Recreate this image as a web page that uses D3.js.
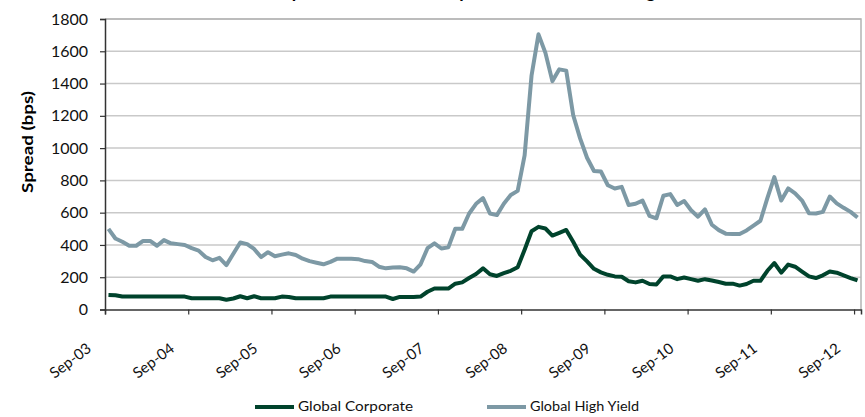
<!DOCTYPE html>
<html>
<head>
<meta charset="utf-8">
<script src="https://cdn.jsdelivr.net/npm/d3@7"></script>
<style>
  html, body { margin: 0; padding: 0; background: #fff; }
  svg { display: block; font-family: Lato, "Open Sans", sans-serif; }
</style>
</head>
<body>
<svg id="chart" width="865" height="417"></svg>
<script>
// Monthly spreads (bps), Sep-03 through Sep-12
const highYield = [
  500, 440, 420, 395, 395, 425, 425, 395, 430, 410, 405, 400,
  380, 365, 325, 305, 320, 275, 345, 415, 405, 375, 325, 355,
  330, 340, 348, 338, 315, 300, 290, 280, 295, 315, 315, 315,
  312, 300, 295, 265, 255, 260, 262, 255, 235, 280, 380, 410,
  378, 385, 500, 500, 595, 655, 690, 595, 585, 655, 710, 735,
  955, 1450, 1705, 1590, 1415, 1488, 1480, 1205, 1060, 940, 858, 855,
  770, 750, 760, 648, 655, 675, 580, 565, 705, 715, 648, 672,
  615, 575, 620, 525, 492, 470, 468, 468, 490, 520, 550, 690,
  820, 675, 750, 720, 675, 596, 595, 605, 700, 658, 630, 605,
  570
];
const corporate = [
  90, 88, 80, 80, 80, 80, 80, 80, 80, 80, 80, 80,
  70, 70, 70, 70, 70, 60, 68, 82, 70, 82, 70, 70,
  70, 80, 78, 70, 70, 70, 70, 70, 80, 80, 80, 80,
  80, 80, 80, 80, 80, 65, 78, 78, 78, 80, 110, 130,
  130, 130, 160, 168, 195, 220, 255, 218, 208, 225, 240, 262,
  370, 485, 512, 502, 458, 475, 493, 420, 340, 298, 252, 230,
  215, 205, 203, 175, 168, 178, 158, 155, 205, 205, 188, 198,
  188, 178, 188, 180, 170, 160, 160, 148, 158, 178, 178, 240,
  288, 228, 278, 265, 235, 205, 195, 212, 235, 228, 212, 195,
  180
];
const tickLabels = ["Sep-03", "Sep-04", "Sep-05", "Sep-06", "Sep-07",
                    "Sep-08", "Sep-09", "Sep-10", "Sep-11", "Sep-12"];
const yTicks = [0, 200, 400, 600, 800, 1000, 1200, 1400, 1600, 1800];
const seriesNames = ["Global Corporate", "Global High Yield"];

const colors = { corp: "#00432c", hy: "#7d99a5" };

const svg = d3.select("#chart");
const plotLeft = 105, plotRight = 861, plotTop = 19, plotBottom = 309.5;

const x = d3.scaleLinear().domain([0, highYield.length]).range([plotLeft, plotRight]);
const y = d3.scaleLinear().domain([0, 1800]).range([plotBottom, plotTop]);

// Title, running along the top edge of the page
svg.append("text")
  .attr("x", 282).attr("y", -2)
  .attr("font-size", 18).attr("font-weight", "bold")
  .text("Spreads on Global Corporate versus Global High Yield Bonds");

// gridlines
svg.append("g").selectAll("line")
  .data(yTicks.filter(d => d > 0))
  .join("line")
  .attr("x1", plotLeft).attr("x2", plotRight)
  .attr("y1", d => y(d)).attr("y2", d => y(d))
  .attr("stroke", "#c9c9c9").attr("stroke-width", 1.5);

// plot border (top / right)
svg.append("path")
  .attr("d", `M${plotLeft},${plotTop}H${plotRight}V${plotBottom}`)
  .attr("fill", "none").attr("stroke", "#b4b4b4").attr("stroke-width", 1.5);

// y axis
const yAxis = svg.append("g")
  .attr("transform", `translate(${plotLeft},0)`)
  .call(d3.axisLeft(y).tickValues(yTicks).tickSize(5).tickPadding(12).tickFormat(d3.format("d")));
yAxis.select(".domain").attr("stroke", "#333").attr("stroke-width", 1.5);
yAxis.selectAll(".tick line").attr("stroke", "#333").attr("stroke-width", 1.2);
yAxis.selectAll(".tick text").attr("font-size", 16).attr("font-family", "Lato").attr("fill", "#111");

// x axis
const xAxis = svg.append("g")
  .attr("transform", `translate(0,${plotBottom})`)
  .call(d3.axisBottom(x).tickValues(tickLabels.map((d, i) => i * 12)).tickSize(5).tickFormat(""));
xAxis.select(".domain").attr("stroke", "#333").attr("stroke-width", 1.5);
xAxis.selectAll(".tick line").attr("stroke", "#333").attr("stroke-width", 1.2);

svg.append("g").selectAll("text")
  .data(tickLabels)
  .join("text")
  .attr("transform", (d, i) => `translate(${x(i * 12) - 15},${plotBottom + 38}) rotate(-37)`)
  .attr("text-anchor", "end")
  .attr("dominant-baseline", "middle")
  .attr("font-size", 15)
  .attr("fill", "#111")
  .text(d => d);

// y axis title
svg.append("text")
  .attr("transform", `translate(33,142) rotate(-90)`)
  .attr("text-anchor", "middle")
  .attr("font-size", 15).attr("font-weight", "bold")
  .attr("textLength", 102).attr("lengthAdjust", "spacingAndGlyphs")
  .text("Spread (bps)");

// series lines
const line = d3.line().x((d, i) => x(i + 0.5)).y(d => y(d)).curve(d3.curveLinear);
svg.append("path").datum(highYield)
  .attr("d", line).attr("fill", "none")
  .attr("stroke", colors.hy).attr("stroke-width", 4).attr("stroke-linejoin", "round");
svg.append("path").datum(corporate)
  .attr("d", line).attr("fill", "none")
  .attr("stroke", colors.corp).attr("stroke-width", 4).attr("stroke-linejoin", "round");

// legend
const legend = [
  { name: seriesNames[0], color: colors.corp, x: 255, w: 115 },
  { name: seriesNames[1], color: colors.hy, x: 487, w: 109 }
];
const lg = svg.append("g").selectAll("g").data(legend).join("g")
  .attr("transform", d => `translate(${d.x},407)`);
lg.append("line").attr("x1", 0).attr("x2", 39).attr("y1", 0).attr("y2", 0)
  .attr("stroke", d => d.color).attr("stroke-width", 4);
lg.append("text").attr("x", 43).attr("y", 0)
  .attr("dominant-baseline", "middle")
  .attr("font-size", 14).attr("fill", "#111")
  .attr("textLength", d => d.w).attr("lengthAdjust", "spacingAndGlyphs")
  .text(d => d.name);
</script>
</body>
</html>
